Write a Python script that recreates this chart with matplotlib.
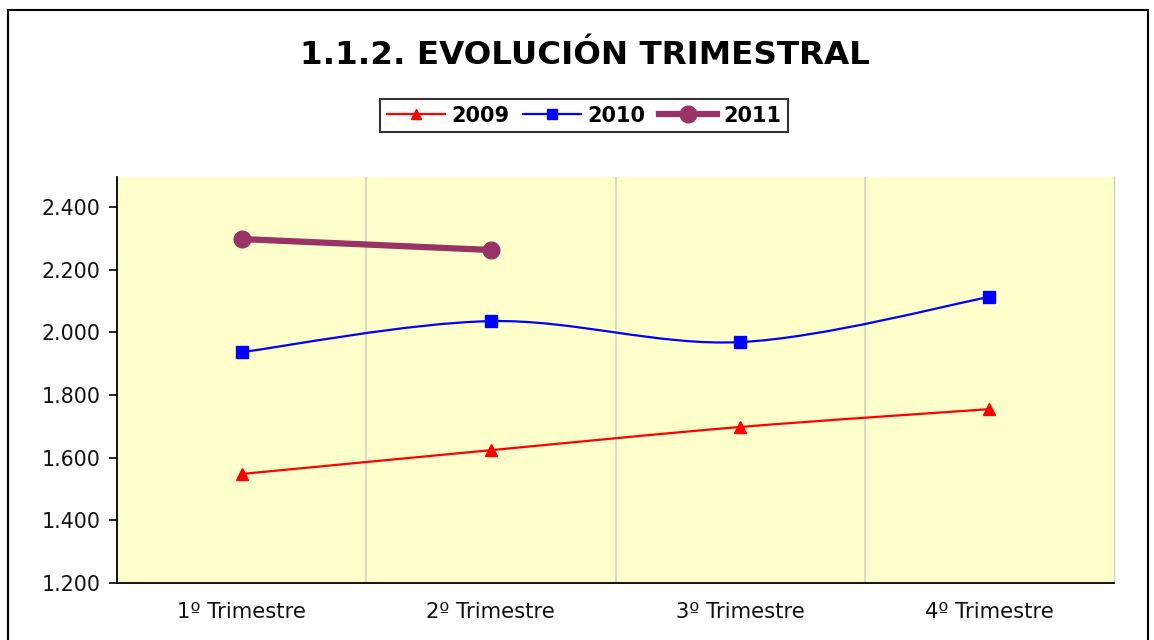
import matplotlib
matplotlib.use("Agg")
import matplotlib.pyplot as plt
from matplotlib.path import Path
from matplotlib.patches import PathPatch, Rectangle
from matplotlib.lines import Line2D
from matplotlib.ticker import FuncFormatter, FixedLocator

categories = ["1º Trimestre", "2º Trimestre", "3º Trimestre", "4º Trimestre"]
s2009 = [1548, 1624, 1698, 1755]
s2010 = [1937, 2036, 1969, 2113]
s2011 = [2298, 2263]
series_names = ["2009", "2010", "2011"]

plt.rcParams['font.family'] = ['DejaVu Sans']

fig = plt.figure(figsize=(11.54, 6.4), dpi=100)
ax = fig.add_axes([117/1154, 1-583/640, (1114-117)/1154, (583-177)/640])
ax.set_facecolor("#FFFFCC")


def smooth_path(xs, ys):
    pts = list(zip(xs, ys))
    verts = [pts[0]]
    codes = [Path.MOVETO]
    n = len(pts)
    for i in range(n - 1):
        p0 = pts[i - 1] if i > 0 else pts[i]
        p1 = pts[i]
        p2 = pts[i + 1]
        p3 = pts[i + 2] if i + 2 < n else pts[i + 1]
        c1 = (p1[0] + (p2[0] - p0[0]) / 6, p1[1] + (p2[1] - p0[1]) / 6)
        c2 = (p2[0] - (p3[0] - p1[0]) / 6, p2[1] - (p3[1] - p1[1]) / 6)
        verts += [c1, c2, p2]
        codes += [Path.CURVE4] * 3
    return Path(verts, codes)


styles = [
    dict(data=s2009, color="#FF0000", lw=1.6, marker="^", ms=8, lms=7),
    dict(data=s2010, color="#0000FF", lw=1.6, marker="s", ms=9, lms=7),
    dict(data=s2011, color="#993366", lw=4.5, marker="o", ms=12, lms=12),
]
handles = []
for name, st in zip(series_names, styles):
    xs = list(range(len(st["data"])))
    ys = st["data"]
    patch = PathPatch(smooth_path(xs, ys), facecolor="none", edgecolor=st["color"],
                      lw=st["lw"], zorder=3, capstyle="round")
    ax.add_patch(patch)
    ax.plot(xs, ys, linestyle="none", marker=st["marker"], ms=st["ms"],
            color=st["color"], zorder=4)
    handles.append(Line2D([], [], color=st["color"], lw=st["lw"], marker=st["marker"],
                          ms=st["lms"], label=name))

ax.set_xlim(-0.5, 3.5)
ax.set_ylim(1200, 2496)
ax.set_xticks(range(4))
ax.set_xticklabels(categories, fontsize=15.2, color="#111111")
ax.xaxis.set_minor_locator(FixedLocator([0.5, 1.5, 2.5]))
ax.grid(True, which="minor", axis="x", color="#D4D4C8", lw=1.2)
ax.tick_params(axis="x", which="both", length=0, pad=14)
ax.set_yticks(range(1200, 2401, 200))
ax.yaxis.set_major_formatter(FuncFormatter(lambda v, p: f"{int(v):,}".replace(",", ".")))
ax.tick_params(axis="y", length=6, width=1.2, labelsize=14.8, labelcolor="#111111", pad=6)
ax.spines["top"].set_visible(False)
ax.spines["right"].set_color("#C8C8B8")
ax.spines["left"].set_linewidth(1.3)
ax.spines["bottom"].set_linewidth(1.3)

fig.text(585/1154, 1-55/640, "1.1.2. EVOLUCIÓN TRIMESTRAL", ha="center", va="center",
         fontsize=23.4, fontweight="bold")

leg = fig.legend(handles=handles, loc="center", bbox_to_anchor=(584/1154, 1-115.5/640),
                 ncol=3, frameon=True, fancybox=False, edgecolor="black",
                 prop=dict(size=15, weight="bold"), handlelength=2.8,
                 columnspacing=0.65, handletextpad=0.3, borderpad=0.3)
leg.get_frame().set_linewidth(1.5)

fig.add_artist(Rectangle((8/1154, -0.05), (1148-8)/1154, 1.05 - 10/640, fill=False,
                         edgecolor="black", lw=1.5, transform=fig.transFigure))

fig.savefig("out.png", dpi=100)
